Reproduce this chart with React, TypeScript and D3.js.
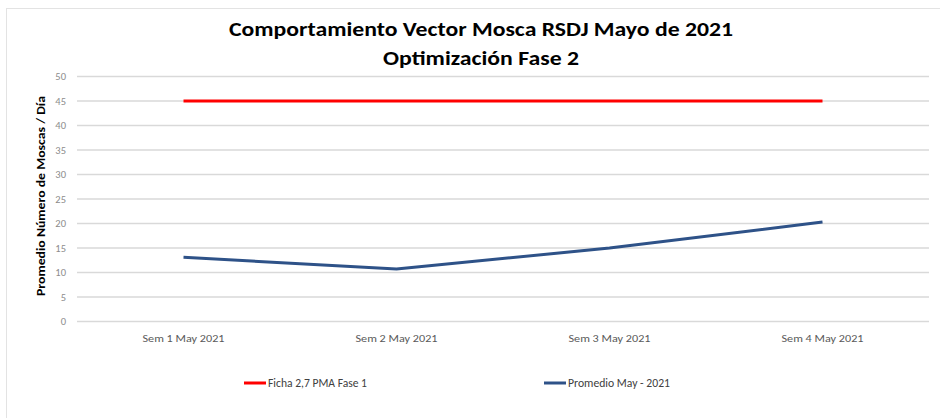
import { useEffect, useRef } from 'react'
import * as d3 from 'd3'

const categories = ['Sem 1 May 2021', 'Sem 2 May 2021', 'Sem 3 May 2021', 'Sem 4 May 2021']
const promedio = [13.1, 10.7, 15, 20.3]
const ficha = [45, 45, 45, 45]
const yTicks = [0, 5, 10, 15, 20, 25, 30, 35, 40, 45, 50]
const seriesNames = ['Ficha 2,7 PMA Fase 1', 'Promedio May - 2021']
const colors = ['#ff0000', '#2e5288']

const W = 940
const H = 418

export default function App() {
  const ref = useRef<SVGSVGElement | null>(null)
  useEffect(() => {
    const svg = d3.select(ref.current)
    svg.selectAll('*').remove()
    const font = 'Carlito, "Open Sans", "Liberation Sans", sans-serif'

    svg.append('rect').attr('width', W).attr('height', H).attr('fill', '#fff')
    svg.append('rect')
      .attr('x', 6.5).attr('y', 8.5).attr('width', W).attr('height', H)
      .attr('fill', 'none').attr('stroke', '#e3e3e3').attr('stroke-width', 1)

    const x = d3.scaleBand<string>().domain(categories).range([77, 929])
    const y = d3.scaleLinear().domain([0, 50]).range([321.5, 76.5])

    // title
    const title = svg.append('g').attr('font-family', font).attr('font-weight', 'bold').attr('fill', '#000')
    title.append('text').attr('x', 481).attr('y', 36).attr('text-anchor', 'middle')
      .attr('font-size', 20).attr('textLength', 504).attr('lengthAdjust', 'spacingAndGlyphs')
      .text('Comportamiento Vector Mosca RSDJ Mayo de 2021')
    title.append('text').attr('x', 481).attr('y', 65).attr('text-anchor', 'middle')
      .attr('font-size', 20).attr('textLength', 196).attr('lengthAdjust', 'spacingAndGlyphs')
      .text('Optimización Fase 2')

    // grid + y ticks
    const grid = svg.append('g')
    grid.selectAll('line').data(yTicks).enter().append('line')
      .attr('x1', 77).attr('x2', 929)
      .attr('y1', (d) => y(d)).attr('y2', (d) => y(d))
      .attr('stroke', '#d9d9d9').attr('stroke-width', 1.5)
    grid.selectAll('text').data(yTicks).enter().append('text')
      .attr('x', 66).attr('y', (d) => y(d) + 3.5)
      .attr('text-anchor', 'end').attr('font-family', font).attr('font-size', 10.5)
      .attr('fill', '#8c8c8c').text((d) => String(d))

    // y label
    svg.append('text')
      .attr('transform', `translate(45,${(76 + 322) / 2 - 3}) rotate(-90)`)
      .attr('text-anchor', 'middle').attr('font-family', font).attr('font-weight', 'bold')
      .attr('font-size', 11).attr('fill', '#000')
      .attr('textLength', 200).attr('lengthAdjust', 'spacingAndGlyphs')
      .text('Promedio Número de Moscas / Día')

    // x labels
    svg.append('g').selectAll('text').data(categories).enter().append('text')
      .attr('x', (d) => (x(d) ?? 0) + x.bandwidth() / 2).attr('y', 342)
      .attr('text-anchor', 'middle').attr('font-family', font).attr('font-size', 10)
      .attr('textLength', 82).attr('lengthAdjust', 'spacingAndGlyphs')
      .attr('fill', '#595959').text((d) => d)

    const line = d3.line<number>()
      .x((_, i) => (x(categories[i]) ?? 0) + x.bandwidth() / 2)
      .y((d) => y(d))

    ;[ficha, promedio].forEach((s, i) => {
      svg.append('path').datum(s).attr('d', line as any)
        .attr('fill', 'none').attr('stroke', colors[i]).attr('stroke-width', 3)
        .attr('stroke-linejoin', 'round')
    })

    // legend
    const legX = [244, 544]
    const legW = [99, 102]
    seriesNames.forEach((n, i) => {
      const g = svg.append('g').attr('transform', `translate(${legX[i]},383)`)
      g.append('line').attr('x1', 0).attr('x2', 22).attr('stroke', colors[i]).attr('stroke-width', 3)
      g.append('text').attr('x', 24).attr('y', 4).attr('font-family', font).attr('font-size', 11.5)
        .attr('textLength', legW[i]).attr('lengthAdjust', 'spacingAndGlyphs')
        .attr('fill', '#404040').text(n)
    })
  }, [])
  return <svg ref={ref} width={W} height={H} style={{ position: 'absolute', left: 0, top: 0 }} />
}
